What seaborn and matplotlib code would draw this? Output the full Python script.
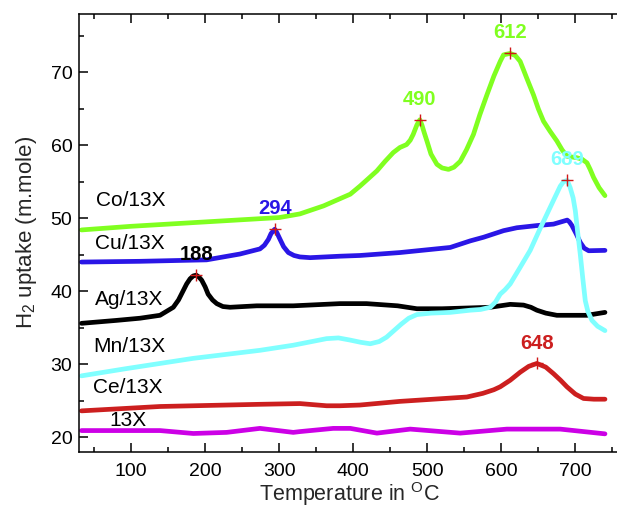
import matplotlib
matplotlib.use("Agg")
import matplotlib.pyplot as plt
from matplotlib.ticker import MultipleLocator
import pandas as pd
import seaborn as sns

# H2-TPR profiles of the metal-loaded 13X samples
co_t = [33, 100, 200, 300, 328, 360, 396, 409, 420, 432, 443, 454, 463, 472, 477, 481, 486, 490,
        492.7, 496, 499.5, 505, 513, 520, 528.7, 536, 544.5, 553, 562.4, 571, 580.5, 590, 598.5,
        603, 612, 619, 625.5, 634, 643.5, 650, 657, 666, 675, 682, 688.6, 695, 702, 709, 715.7,
        720, 724.6, 732, 740]
co_h = [48.4, 48.9, 49.5, 50.1, 50.6, 51.7, 53.3, 54.4, 55.4, 56.5, 57.8, 59.0, 59.7, 60.1, 60.7,
        61.5, 62.8, 63.5, 62.8, 61.7, 60.6, 58.8, 57.4, 56.9, 56.7, 57.0, 57.8, 59.4, 61.5, 64.2,
        66.9, 69.5, 71.5, 72.4, 72.6, 72.3, 71.5, 69.3, 66.9, 65.0, 63.3, 61.9, 60.6, 59.4, 58.5,
        58.4, 58.3, 58.1, 57.6, 56.7, 55.6, 54.2, 53.1]

cu_t = [33, 112, 202, 247, 274, 280, 285.4, 289, 294, 297, 301.2, 306, 312.4, 320, 328, 341.8,
        382, 409, 463, 531, 558, 576, 603, 621, 648, 670.5, 689, 692, 695.4, 701, 706.6, 712, 718,
        740]
cu_h = [44.0, 44.1, 44.3, 45.1, 45.8, 46.3, 47.1, 47.9, 48.5, 48.0, 47.1, 46.1, 45.3, 44.9, 44.7,
        44.6, 44.8, 44.9, 45.3, 46.0, 46.9, 47.4, 48.3, 48.7, 49.0, 49.2, 49.75, 49.5, 49.0, 47.9,
        46.7, 45.9, 45.55, 45.6]

ag_t = [33, 80, 112, 139, 157, 164, 170.5, 175, 179.6, 184, 188, 192, 195.4, 200, 204, 210, 215.7,
        224, 233.6, 269.7, 319, 382, 418, 460, 486, 520, 553.5, 585, 612, 630, 640, 648, 660, 675,
        715.7, 740]
ag_h = [35.6, 36.0, 36.3, 36.7, 37.8, 38.8, 40.1, 41.0, 41.7, 42.1, 42.2, 41.9, 41.5, 40.6, 39.6,
        38.8, 38.3, 37.9, 37.8, 38.0, 38.0, 38.3, 38.3, 38.0, 37.6, 37.6, 37.7, 37.8, 38.2, 38.1,
        37.8, 37.4, 37.0, 36.7, 36.7, 37.1]

mn_t = [33, 94, 184, 274, 319, 364, 380, 396, 410, 423, 435, 445, 455, 465, 475, 486, 505, 531,
        558, 572, 585, 592, 598.5, 605, 612, 625, 639, 652, 666, 673, 679.6, 684, 689, 693, 697,
        700, 703, 706.6, 710, 713.4, 717, 722.4, 730, 740]
mn_h = [28.4, 29.4, 30.8, 31.9, 32.6, 33.5, 33.6, 33.3, 33.0, 32.8, 33.1, 33.7, 34.6, 35.5, 36.3,
        36.8, 37.0, 37.1, 37.4, 37.5, 37.8, 38.5, 39.6, 40.2, 41.0, 43.2, 45.6, 48.5, 51.5, 53.0,
        54.4, 55.0, 55.2, 54.2, 52.8, 51.0, 48.2, 45.1, 41.8, 38.7, 37.2, 36.0, 35.2, 34.6]

ce_t = [33, 139, 274, 328, 364, 382, 409, 463, 553.5, 575, 590, 598.5, 612, 625.5, 637, 648, 660,
        670.5, 680, 688.6, 700, 711, 725, 740]
ce_h = [23.6, 24.2, 24.5, 24.6, 24.3, 24.3, 24.4, 24.9, 25.5, 26.0, 26.5, 26.9, 27.8, 28.9, 29.7,
        30.1, 29.6, 28.7, 27.8, 26.9, 25.9, 25.3, 25.2, 25.2]

x13_t = [33, 139, 184, 229, 274, 319, 328, 373, 396, 432, 477, 544.5, 607.5, 679.6, 740]
x13_h = [20.9, 20.9, 20.5, 20.65, 21.2, 20.65, 20.76, 21.2, 21.2, 20.55, 21.1, 20.55, 21.1, 21.1,
         20.45]

samples = ["Co/13X", "Cu/13X", "Ag/13X", "Mn/13X", "Ce/13X", "13X"]
colors = ["#80ff20", "#2a16e6", "#000000", "#80ffff", "#cc1f1f", "#cc00e6"]

# peak maxima: temperature, uptake, label colour
peak_t = [490, 612, 294, 188, 689, 648]
peak_h = [63.5, 72.6, 48.5, 42.2, 55.2, 30.1]
peak_c = ["#80ff20", "#80ff20", "#2a16e6", "#000000", "#80ffff", "#cc1f1f"]

# sample name labels placed beside each trace
name_x = [52, 51, 51, 49, 49, 71]
name_y = [52.4, 46.5, 38.8, 32.4, 26.8, 22.3]

series = [(co_t, co_h), (cu_t, cu_h), (ag_t, ag_h), (mn_t, mn_h), (ce_t, ce_h), (x13_t, x13_h)]
df = pd.concat(
    [pd.DataFrame({"T": t, "H2": h, "sample": s}) for s, (t, h) in zip(samples, series)],
    ignore_index=True,
)

sns.set_theme(style="ticks")
plt.rcParams["font.family"] = ["Liberation Sans", "DejaVu Sans"]
plt.rcParams["mathtext.fontset"] = "custom"
plt.rcParams["mathtext.rm"] = "Liberation Sans"
plt.rcParams["mathtext.it"] = "Liberation Sans:italic"

fig = plt.figure(figsize=(6.17, 5.11), dpi=100)
ax = fig.add_axes([0.1285, 0.116, 0.876, 0.8566])

sns.lineplot(data=df, x="T", y="H2", hue="sample", hue_order=samples,
             palette=dict(zip(samples, colors)), estimator=None, sort=False,
             linewidth=3.4, legend=False, ax=ax)
for line in ax.lines:
    line.set_solid_joinstyle("round")
    line.set_solid_capstyle("round")

ax.plot(peak_t, peak_h, linestyle="none", marker="+", color="#d01818",
        markersize=9, markeredgewidth=1.0, zorder=5)
for t, h, c in zip(peak_t, peak_h, peak_c):
    ax.text(t, h + 2.8, f"{t}", color=c, fontsize=14.5, fontweight="bold",
            ha="center", va="center")

for s, x, y in zip(samples, name_x, name_y):
    ax.text(x, y, s, fontsize=15, color="black", ha="left", va="center")

ax.set_xlim(30, 760)
ax.set_ylim(18, 78)
ax.xaxis.set_major_locator(MultipleLocator(100))
ax.xaxis.set_minor_locator(MultipleLocator(50))
ax.yaxis.set_major_locator(MultipleLocator(10))
ax.yaxis.set_minor_locator(MultipleLocator(5))
ax.tick_params(which="both", direction="in", top=True, right=False, width=1.1, colors="black")
ax.tick_params(which="major", length=6.5, labelsize=14)
ax.tick_params(axis="x", which="major", pad=8)
ax.tick_params(axis="y", which="major", pad=5)
ax.tick_params(which="minor", length=3.4)
ax.tick_params(axis="x", labeltop=False)

for side in ["left", "bottom", "top"]:
    ax.spines[side].set_linewidth(1.1)
    ax.spines[side].set_color("black")
ax.spines["right"].set_visible(False)

ax.set_xlabel("Temperature in $^\\mathrm{O}$C", fontsize=15.5, labelpad=0)
ax.set_ylabel("H$_\\mathrm{2}$ uptake (m.mole)", fontsize=16, labelpad=8)

fig.savefig("out.png", dpi=100)
